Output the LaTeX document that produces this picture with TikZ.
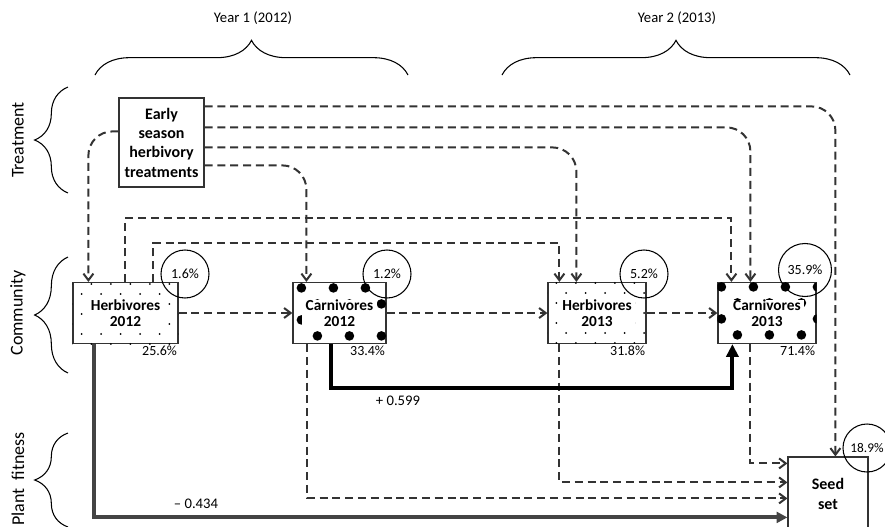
\documentclass[tikz,border=0pt]{standalone}
\usepackage{fontspec}
\setmainfont{Carlito}
\usepackage{tikz}
\usetikzlibrary{arrows.meta,positioning,decorations.pathreplacing,calc}
\definecolor{linecol}{HTML}{333333}
\definecolor{negcol}{HTML}{444444}

\begin{document}
\begin{tikzpicture}[x=0.75pt,y=-0.75pt,>=Stealth,
  box/.style={draw=linecol,line width=0.9pt,inner sep=0pt},
  lbl/.style={fill=white,inner xsep=2.5pt,inner ysep=0pt,align=center,font=\fontsize{11.5}{11.5}\selectfont\bfseries},
  pct/.style={inner sep=1pt,anchor=north east,font=\fontsize{10.5}{12}\selectfont},
  ring/.style={circle,draw=black,line width=0.8pt,minimum size=36pt,inner sep=0pt,font=\fontsize{10.5}{12}\selectfont},
  side/.style={rotate=90,font=\fontsize{13.5}{14}\selectfont},
  brace/.style={decorate,decoration={brace,amplitude=#1},line width=0.8pt},
  effect/.style={draw=linecol,line width=1.5pt,dash pattern=on 6pt off 3.6pt,-{Straight Barb[length=5pt,width=7.5pt]}},
  negpath/.style={draw=negcol,line width=3pt,-{Triangle[length=8pt,width=8pt]}},
  pospath/.style={draw=black,line width=3pt,-{Triangle[length=9.5pt,width=9pt]}}]
  \useasboundingbox (0,0) rectangle (885,526);
  % years and levels
  \node (yr1) at (253,18) {\fontsize{11}{12}\selectfont Year 1 (2012)};
  \node (yr2) at (677,18) {\fontsize{11}{12}\selectfont Year 2 (2013)};
  \draw[brace=26pt] (95,75) -- (408,75);
  \draw[brace=26pt] (502,75) -- (850,75);
  \node[side] (lvtr) at (18,140) {Treatment};
  \node[side] (lvcom) at (18,313) {Community};
  \node[side] (lvfit) at (18,479) {Plant\ \ fitness};
  \draw[brace=25pt] (68,193) -- (68,87);
  \draw[brace=25pt] (68,373) -- (68,257);
  \draw[brace=25pt] (68,527) -- (68,433);
  % boxes
  \node[box,minimum width=63.75pt,minimum height=66.75pt,align=center,
    font=\fontsize{12}{14.5}\selectfont\bfseries] (tr) at (161.5,142.5) {Early\\season\\herbivory\\treatments};
  \node[box,minimum width=78.75pt,minimum height=45.75pt] (h12) at (125.5,313) {};
  \node[box,minimum width=69.75pt,minimum height=45.75pt] (c12) at (339.5,313) {};
  \node[box,minimum width=73.5pt,minimum height=45.75pt] (h13) at (597,313) {};
  \node[box,minimum width=73.5pt,minimum height=45.75pt] (c13) at (767,313) {};
  \node[box,minimum width=60pt,minimum height=55.5pt,align=center,
    font=\fontsize{12}{14.5}\selectfont\bfseries] (seed) at (828,494) {Seed\\set};
  % fine dots for herbivores, big dots for carnivores
  \foreach \b/\ox/\oy in {h12/19/2,h13/9/1} {
    \begin{scope}
      \clip (\b.south west) rectangle (\b.north east);
      \foreach \r in {0,...,6} {
        \foreach \c in {-1,...,6} {
          \pgfmathsetmacro{\sx}{\ox+19.5*\c-9.75*mod(\r,2)}
          \fill[black] ($(\b.north west)+(\sx,\oy+10*\r)$) circle (1);
        }
      }
    \end{scope}
  }
  \foreach \b/\ox/\oy in {c12/9/6,c13/4/5} {
    \begin{scope}
      \clip (\b.south west) rectangle (\b.north east);
      \foreach \r in {0,...,3} {
        \foreach \c in {-1,...,3} {
          \pgfmathsetmacro{\sx}{\ox+32*\c+16*mod(\r,2)}
          \fill[black] ($(\b.north west)+(\sx,\oy+16*\r)$) circle (4.8);
        }
      }
    \end{scope}
  }
  \node[lbl] (h12t) at (h12) {Herbivores\\2012};
  \node[lbl] (c12t) at (c12) {Carnivores\\2012};
  \node[lbl] (h13t) at (h13) {Herbivores\\2013};
  \node[lbl] (c13t) at (c13) {Carnivores\\2013};
  % explained variance
  \node[pct] (h12v) at (h12.south east) {25.6\%};
  \node[pct] (c12v) at (c12.south east) {33.4\%};
  \node[pct] (h13v) at (h13.south east) {31.8\%};
  \node[pct] (c13v) at (c13.south east) {71.4\%};
  \node[ring] (h12r) at (185,274) {1.6\%};
  \node[ring] (c12r) at (387,274) {1.2\%};
  \node[ring] (h13r) at (644,274) {5.2\%};
  \node[ring,minimum size=39.75pt] (c13r) at (805,270) {35.9\%};
  \node[ring,font=\fontsize{10}{12}\selectfont] (seedr) at (867,448) {18.9\%};
  % treatment effects
  \draw[effect,rounded corners=18pt] ($(tr.north west)+(0,34)$) -| ($(h12.north west)+(16,0)$);
  \draw[effect,rounded corners=18pt] ($(tr.north east)+(0,9)$) -| ($(seed.north west)+(48,0)$);
  \draw[effect,rounded corners=18pt] ($(tr.north east)+(0,30)$) -| ($(c13.north west)+(33,0)$);
  \draw[effect,rounded corners=18pt] ($(tr.north east)+(0,50)$) -| ($(h13.north west)+(29,0)$);
  \draw[effect,rounded corners=18pt] ($(tr.north east)+(0,68)$) -| ($(c12.north west)+(14,0)$);
  % community links
  \draw[effect] ($(h12.north west)+(53,0)$) -- ++(0,-64) -| ($(c13.north west)+(14,0)$);
  \draw[effect] ($(h12.north west)+(81,0)$) -- ++(0,-39) -| ($(h13.north west)+(12,0)$);
  \draw[effect] (h12.east) -- (c12.west);
  \draw[effect] (c12.east) -- (h13.west);
  \draw[effect] (h13.east) -- (c13.west);
  % links to seed set
  \draw[effect] ($(c13.south west)+(33,0)$) |- ($(seed.north west)+(0,7)$);
  \draw[effect] ($(h13.south west)+(12,0)$) |- ($(seed.north west)+(0,26)$);
  \draw[effect] ($(c12.south west)+(15,0)$) |- ($(seed.north west)+(0,42)$);
  \draw[negpath] ($(h12.south west)+(22,0)$) |- ($(seed.north west)+(0,61)$);
  \draw[pospath] ($(c12.south west)+(39,0)$) -- ++(0,44) -| ($(c13.south west)+(15,0)$);
  \node[font=\fontsize{11}{12}\selectfont] (negv) at (196,504) {– 0.434};
  \node[font=\fontsize{11}{12}\selectfont] (posv) at (398,401) {+ 0.599};
\end{tikzpicture}
\end{document}
